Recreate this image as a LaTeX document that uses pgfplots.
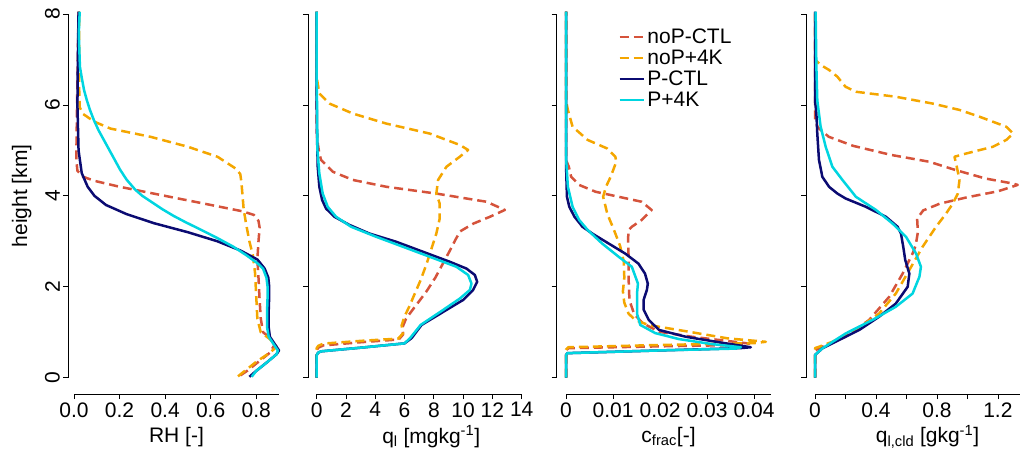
\documentclass[border=0pt]{standalone}
\usepackage{fontspec}
\setmainfont{Liberation Sans}
\usepackage{pgfplots}
\pgfplotsset{compat=1.18}
\definecolor{cred}{HTML}{D5533B}
\definecolor{corange}{HTML}{F4A600}
\definecolor{cnavy}{HTML}{0B0B72}
\definecolor{ccyan}{HTML}{00D5E0}
\newcommand{\fs}{\fontsize{21}{24}\selectfont}
\pgfplotsset{
  panel/.style={
    scale only axis, width=205pt, height=363.7pt,
    ymin=0, ymax=8, clip=false,
    axis lines*=left,
    axis x line shift=16.3pt,
    ytick={0,2,4,6,8}, yticklabels={},
    scaled x ticks=false, scaled y ticks=false,
    tick align=outside, major tick length=5pt,
    tick style={black, line width=0.8pt},
    axis line style={black, line width=0.8pt},
    every tick label/.append style={font=\fs},
    anchor=south west,
    xlabel style={at={(axis description cs:0.5,0)}, anchor=center, yshift=-59pt, font=\fs},
    legend image code/.code={\draw[##1] (0pt,0pt) -- (24pt,0pt);},
  },
  noPCTL/.style={cred, line width=2.5pt, dash pattern=on 9pt off 5pt, line join=round},
  noP4K/.style={corange, line width=2.5pt, dash pattern=on 9pt off 5pt, line join=round},
  PCTL/.style={cnavy, line width=2.5pt, line join=round},
  P4K/.style={ccyan, line width=2.5pt, line join=round},
}
\begin{document}
\begin{tikzpicture}
\useasboundingbox (0,0) rectangle (1028pt,451pt);
% ---------- Panel 1: RH ----------
\begin{axis}[panel, at={(74pt,73.3pt)},
  xmin=0, xmax=0.9, axis y line shift=5.7pt,
  xtick={0,0.2,0.4,0.6,0.8}, xticklabels={0.0,0.2,0.4,0.6,0.8},
  yticklabels={0,2,4,6,8}, yticklabel style={rotate=90, anchor=south},
  xlabel={RH [-]},
  ylabel={height [km]},
  ylabel style={at={(axis description cs:0,0.5)}, anchor=center, yshift=52.3pt, font=\fs},
]
\addplot[noPCTL] coordinates {(0.73,0.05) (0.76,0.15) (0.81,0.35) (0.86,0.55) (0.88,0.72) (0.86,0.88) (0.83,1.0) (0.82,1.3) (0.815,1.7) (0.81,2.2) (0.805,2.6) (0.81,3.0) (0.815,3.3) (0.81,3.45) (0.79,3.58) (0.74,3.66) (0.60,3.8) (0.40,4.0) (0.20,4.2) (0.09,4.33) (0.04,4.42) (0.015,4.55) (0.01,4.8) (0.012,5.5) (0.015,6.5) (0.018,7.5) (0.02,8.05)};
\addplot[noP4K] coordinates {(0.72,0.03) (0.75,0.15) (0.80,0.35) (0.86,0.55) (0.89,0.68) (0.86,0.85) (0.82,1.0) (0.805,1.3) (0.80,1.8) (0.795,2.3) (0.785,2.7) (0.77,3.0) (0.755,3.4) (0.745,3.7) (0.74,4.0) (0.735,4.3) (0.73,4.48) (0.71,4.6) (0.63,4.86) (0.50,5.08) (0.335,5.30) (0.16,5.48) (0.09,5.63) (0.04,5.80) (0.025,5.95) (0.022,6.5) (0.022,7.2) (0.022,8.05)};
\addplot[PCTL] coordinates {(0.77,0.02) (0.80,0.15) (0.85,0.35) (0.89,0.52) (0.90,0.6) (0.88,0.75) (0.86,0.9) (0.855,1.1) (0.855,1.5) (0.857,1.8) (0.857,2.0) (0.853,2.2) (0.837,2.4) (0.805,2.6) (0.73,2.8) (0.63,3.0) (0.50,3.2) (0.35,3.4) (0.23,3.6) (0.14,3.8) (0.09,4.0) (0.06,4.2) (0.034,4.5) (0.02,5.0) (0.015,6.0) (0.017,7.0) (0.02,8.05)};
\addplot[P4K] coordinates {(0.78,0.02) (0.80,0.15) (0.85,0.35) (0.89,0.52) (0.895,0.6) (0.875,0.75) (0.855,0.9) (0.848,1.1) (0.848,1.5) (0.85,1.8) (0.85,2.0) (0.845,2.2) (0.83,2.4) (0.805,2.52) (0.755,2.7) (0.70,2.88) (0.63,3.07) (0.555,3.26) (0.49,3.42) (0.437,3.56) (0.39,3.70) (0.345,3.85) (0.30,4.0) (0.268,4.14) (0.232,4.35) (0.203,4.57) (0.178,4.8) (0.155,5.01) (0.131,5.23) (0.107,5.45) (0.087,5.67) (0.070,5.89) (0.056,6.11) (0.044,6.33) (0.034,6.6) (0.026,6.84) (0.021,7.57) (0.025,8.05)};
\end{axis}
% ---------- Panel 2: q_l ----------
\begin{axis}[panel, at={(316.7pt,73.3pt)},
  xmin=0, xmax=14, axis y line shift=8.4pt,
  xtick={0,2,4,6,8,10,12,14}, xticklabels={0,2,4,6,8,10,12,14},
  xlabel={q\textsubscript{l} [mgkg\textsuperscript{-1}]},
  xlabel style={xshift=12pt},
]
\addplot[noPCTL] coordinates {(0,0) (0,0.6) (0.1,0.66) (0.45,0.71) (3.0,0.78) (5.6,0.84) (5.9,0.95) (5.85,1.1) (6.1,1.3) (6.8,1.6) (7.5,1.9) (8.1,2.2) (8.6,2.5) (9.1,2.8) (9.5,3.05) (9.8,3.22) (10.7,3.39) (11.83,3.54) (12.85,3.69) (11.6,3.87) (8.17,4.05) (4.75,4.2) (2.47,4.35) (1.1,4.53) (0.3,4.79) (0.18,4.93) (0.05,5.2) (0,5.5) (0,8.05)};
\addplot[noP4K] coordinates {(0,0) (0,0.65) (0.1,0.7) (0.45,0.75) (3.0,0.81) (5.57,0.86) (5.9,0.98) (5.8,1.15) (6.0,1.35) (6.3,1.55) (6.7,1.85) (7.1,2.15) (7.5,2.5) (7.85,2.85) (8.17,3.17) (8.4,3.5) (8.4,3.83) (8.17,4.05) (8.29,4.35) (8.86,4.64) (9.77,4.86) (10.34,5.01) (9.77,5.12) (7.72,5.37) (4.75,5.59) (2.47,5.81) (0.87,6.03) (0.18,6.25) (0.07,6.47) (0,6.6) (0,8.05)};
\addplot[PCTL] coordinates {(0,0) (0,0.5) (0.1,0.55) (0.3,0.58) (3.0,0.66) (6.0,0.755) (6.48,0.87) (7.16,1.16) (8.86,1.49) (10.0,1.71) (10.68,1.93) (10.96,2.11) (10.8,2.26) (10.23,2.40) (9.09,2.55) (7.26,2.77) (5.43,2.99) (3.61,3.17) (2.24,3.36) (1.21,3.54) (0.64,3.72) (0.37,3.91) (0.18,4.2) (0.07,4.64) (0.02,5.37) (0,6) (0,8.05)};
\addplot[P4K] coordinates {(0,0) (0,0.5) (0.1,0.55) (0.3,0.58) (3.0,0.66) (6.0,0.755) (6.4,0.88) (7.1,1.16) (8.63,1.49) (9.77,1.74) (10.46,1.93) (10.57,2.07) (10.34,2.26) (9.54,2.44) (7.72,2.66) (5.89,2.88) (4.06,3.1) (2.35,3.32) (1.32,3.54) (0.75,3.76) (0.41,4.05) (0.18,4.49) (0.05,5.0) (0.02,6.1) (0,6.5) (0,8.05)};
\end{axis}
% ---------- Panel 3: c_frac ----------
\begin{axis}[panel, at={(566pt,73.3pt)},
  xmin=0, xmax=0.0436, axis y line shift=9.3pt,
  xtick={0,0.01,0.02,0.03,0.04}, xticklabels={0,0.01,0.02,0.03,0.04},
  xlabel={c\textsubscript{frac}[-]},
  legend cell align=left,
  legend style={at={(axis description cs:0.24,0.972)}, anchor=north west, draw=none, fill=none, font=\fs, row sep=0pt, nodes={inner sep=2.5pt}},
]
\addplot[noPCTL] coordinates {(0,0) (0,0.6) (0.0005,0.65) (0.02,0.69) (0.037,0.72) (0.039,0.75) (0.035,0.8) (0.0268,0.90) (0.0198,1.01) (0.0163,1.2) (0.0145,1.4) (0.0135,1.7) (0.0133,2.2) (0.0133,2.7) (0.0132,3.03) (0.0133,3.25) (0.014,3.32) (0.0161,3.47) (0.0182,3.69) (0.0161,3.87) (0.0112,3.98) (0.0063,4.09) (0.0028,4.24) (0.0011,4.42) (0.0006,4.64) (0,4.79) (0,8.05)};
\addlegendentry{noP-CTL}
\addplot[noP4K] coordinates {(0,0) (0,0.62) (0.0005,0.67) (0.02,0.72) (0.04,0.76) (0.0425,0.79) (0.0344,0.865) (0.0239,1.05) (0.0175,1.16) (0.0147,1.27) (0.0133,1.41) (0.0124,1.65) (0.0121,1.9) (0.0124,2.2) (0.0123,2.55) (0.0115,2.9) (0.0102,3.25) (0.0088,3.6) (0.0079,3.98) (0.0085,4.2) (0.0095,4.42) (0.0107,4.75) (0.0105,4.86) (0.0088,5.04) (0.0046,5.23) (0.0014,5.52) (0.0004,5.89) (0,6.1) (0,8.05)};
\addlegendentry{noP+4K}
\addplot[PCTL] coordinates {(0,0) (0,0.5) (0.0003,0.54) (0.02,0.6) (0.037,0.65) (0.0393,0.67) (0.0339,0.757) (0.0255,0.90) (0.0198,1.05) (0.0176,1.27) (0.0165,1.5) (0.0165,1.71) (0.0172,1.93) (0.0174,2.07) (0.0168,2.29) (0.0154,2.51) (0.0126,2.73) (0.0091,2.95) (0.0056,3.17) (0.0035,3.32) (0.0018,3.54) (0.0007,3.76) (0.0002,3.98) (0,4.7) (0,8.05)};
\addlegendentry{P-CTL}
\addplot[P4K] coordinates {(0,0) (0,0.5) (0.0003,0.54) (0.02,0.6) (0.036,0.64) (0.0372,0.67) (0.031,0.74) (0.024,0.85) (0.019,0.98) (0.0158,1.16) (0.0151,1.41) (0.0151,1.85) (0.0153,2.07) (0.014,2.44) (0.0112,2.66) (0.0077,2.95) (0.0046,3.25) (0.0028,3.47) (0.0014,3.76) (0.0004,4.2) (0,4.86) (0,8.05)};
\addlegendentry{P+4K}
\end{axis}
% ---------- Panel 4: q_l,cld ----------
\begin{axis}[panel, at={(815pt,73.3pt)},
  xmin=0, xmax=1.345, axis y line shift=9pt,
  xtick={0,0.2,0.4,0.6,0.8,1.0,1.2}, xticklabels={0,,0.4,,0.8,,1.2},
  xlabel={q\textsubscript{l,cld} [gkg\textsuperscript{-1}]},
  xlabel style={xshift=10pt},
]
\addplot[noPCTL] coordinates {(0,0) (0,0.6) (0.048,0.68) (0.2,0.9) (0.355,1.27) (0.487,1.78) (0.575,2.29) (0.64,2.73) (0.66,2.9) (0.675,3.2) (0.67,3.5) (0.71,3.68) (0.82,3.83) (1.0,3.97) (1.2,4.1) (1.33,4.24) (1.3,4.27) (1.12,4.38) (0.92,4.57) (0.75,4.75) (0.5,4.9) (0.25,5.1) (0.09,5.3) (0.02,5.5) (0,5.65) (0,8.05)};
\addplot[noP4K] coordinates {(0,0) (0,0.65) (0.026,0.68) (0.114,0.79) (0.268,1.05) (0.42,1.41) (0.53,1.85) (0.619,2.37) (0.706,2.88) (0.794,3.32) (0.86,3.61) (0.904,3.83) (0.937,4.05) (0.948,4.35) (0.926,4.71) (0.915,4.86) (0.99,4.93) (1.167,5.08) (1.255,5.23) (1.3,5.37) (1.255,5.52) (1.08,5.74) (0.948,5.89) (0.772,6.03) (0.53,6.18) (0.268,6.29) (0.2,6.4) (0.147,6.62) (0.092,6.77) (0.037,6.88) (0.004,6.99) (0,7.05) (0,8.05)};
\addplot[PCTL] coordinates {(0,0) (0,0.5) (0.048,0.645) (0.158,0.83) (0.29,1.05) (0.42,1.34) (0.53,1.63) (0.608,2.0) (0.619,2.29) (0.592,2.59) (0.579,2.88) (0.564,3.17) (0.542,3.32) (0.465,3.54) (0.333,3.76) (0.202,3.94) (0.147,4.05) (0.092,4.2) (0.048,4.42) (0.026,4.79) (0.015,5.37) (0.009,5.81) (0,6.1) (0,8.05)};
\addplot[P4K] coordinates {(0,0) (0,0.5) (0.048,0.645) (0.202,0.975) (0.377,1.27) (0.53,1.56) (0.64,1.85) (0.685,2.22) (0.695,2.44) (0.663,2.73) (0.597,3.1) (0.509,3.39) (0.4,3.69) (0.268,3.98) (0.18,4.35) (0.114,4.64) (0.07,5.08) (0.037,5.52) (0.015,6.1) (0.009,6.84) (0.004,8.05)};
\end{axis}
\end{tikzpicture}
\end{document}
